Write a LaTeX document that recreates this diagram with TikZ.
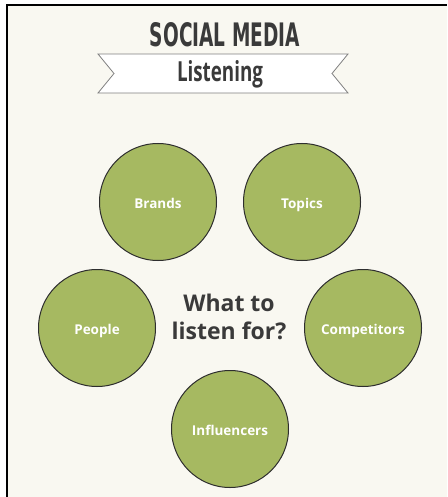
\documentclass[tikz,border=0pt]{standalone}
\usepackage{fontspec}
\setmainfont{Open Sans}
\newfontfamily\titlefont{DejaVu Sans}
\usepackage{graphicx}
\definecolor{paper}{HTML}{F9F8F1}
\definecolor{leaf}{HTML}{A6B961}
\definecolor{ink}{HTML}{3A3A3A}
\definecolor{rim}{HTML}{2E2E2E}
\definecolor{ribbonline}{HTML}{808080}
\newcommand{\lbl}{\fontsize{13.5}{13.5}\selectfont\bfseries}

\begin{document}
\begin{tikzpicture}[
  x=1pt, y=-1pt,
  topic/.style={
    circle,
    draw=rim,
    fill=leaf,
    line width=1pt,
    minimum size=117pt,
    inner sep=0pt,
    text height=12pt,
    text depth=0pt,
    text=white,
    font=\lbl,
  },
  ribbon/.style={draw=ribbonline, fill=white, line width=0.8pt, line join=miter},
  heading/.style={inner sep=0pt, text=ink, font=\bfseries},
]
\useasboundingbox (0,0) rectangle (447,497);

% ---- the sheet and its frame ----------------------------------------------
\fill[white] (0,0) rectangle (447,497);
\fill[paper] (7,5) rectangle (447,497);
\draw[black, line width=1.5pt] (7,497) -- (7,5) -- (447,5);

% ---- title and ribbon -----------------------------------------------------
\node[heading, font=\titlefont\bfseries] (title) at (225,35)
  {\resizebox{150pt}{24pt}{SOCIAL MEDIA}};
\draw[ribbon] (98,54) -- (348,54) -- (332,73.5) -- (348,93)
  -- (98,93) -- (114,73.5) -- cycle;
\node[heading] (sub) at (220,74) {\resizebox{86pt}{21pt}{Listening}};

% ---- the question in the middle -------------------------------------------
\node[heading, align=center, font=\fontsize{23}{28}\selectfont\bfseries]
  (ask) at (229,317) {What to\\listen for?};

% ---- five things to listen for --------------------------------------------
\node[topic] (brands)      at (158,202) {Brands};
\node[topic] (topics)      at (302,202) {Topics};
\node[topic] (people)      at (97,328)  {People};
\node[topic] (competitors) at (363,328) {Competitors};
\node[topic] (influencers) at (230,429) {Influencers};

\end{tikzpicture}
\end{document}
